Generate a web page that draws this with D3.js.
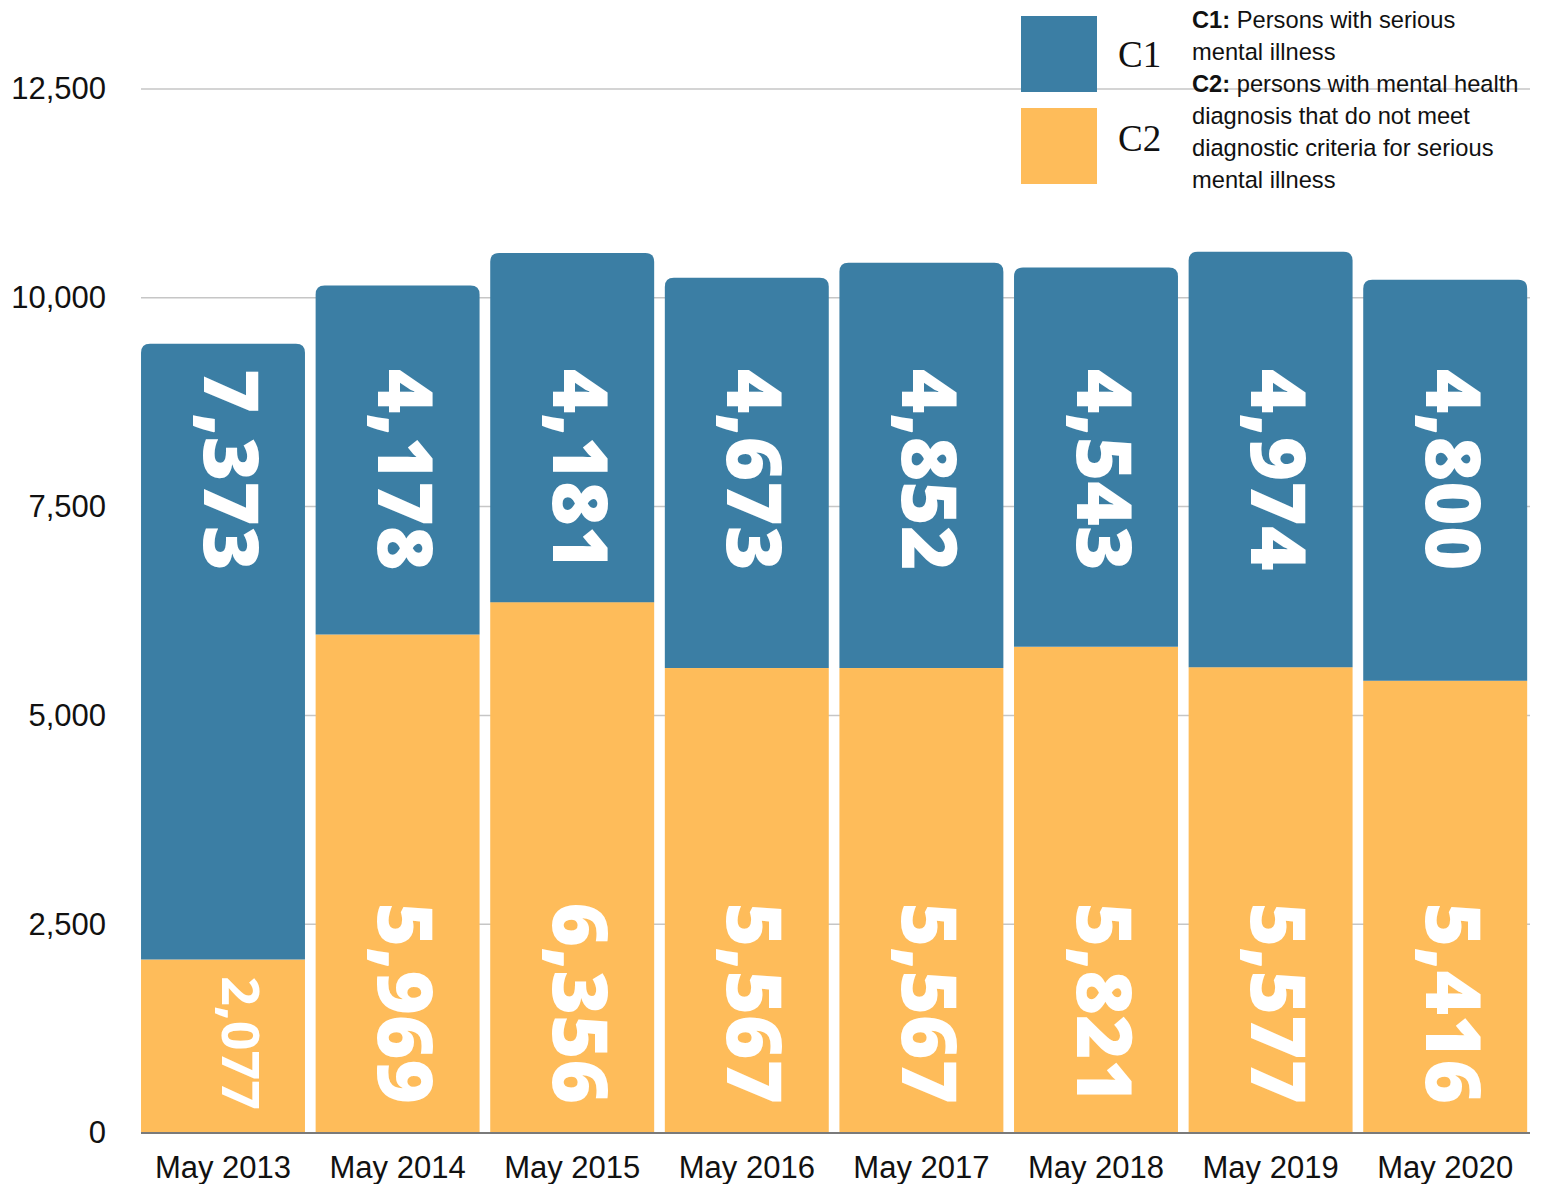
<!DOCTYPE html>
<html>
<head>
<meta charset="utf-8">
<script src="https://cdn.jsdelivr.net/npm/d3@7"></script>
<style>
  html, body { margin: 0; padding: 0; background: #fff; }
  svg { display: block; }
</style>
</head>
<body>
<svg id="chart" width="1546" height="1184"></svg>
<script>
// Caseload by category, each May
const years = ["May 2013", "May 2014", "May 2015", "May 2016", "May 2017", "May 2018", "May 2019", "May 2020"];
const c1Values = [7373, 4178, 4181, 4673, 4852, 4543, 4974, 4800];
const c2Values = [2077, 5969, 6356, 5567, 5567, 5821, 5577, 5416];
const yTicks = [0, 2500, 5000, 7500, 10000, 12500];
const legendItems = [
  { key: "C1", color: "#3B7EA4" },
  { key: "C2", color: "#FEBC5A" }
];
const legendLines = [
  { bold: "C1:", rest: " Persons with serious" },
  { bold: "", rest: "mental illness" },
  { bold: "C2:", rest: " persons with mental health" },
  { bold: "", rest: "diagnosis that do not meet" },
  { bold: "", rest: "diagnostic criteria for serious" },
  { bold: "", rest: "mental illness" }
];

const C1_COLOR = legendItems[0].color;
const C2_COLOR = legendItems[1].color;

const svg = d3.select("#chart");

const rows = years.map((y, i) => ({ year: y, c2: c2Values[i], c1: c1Values[i] }));
const stack = d3.stack().keys(["c2", "c1"])(rows);

const x = d3.scaleBand()
  .domain(years)
  .range([135.7, 1532.5])
  .paddingInner(0.061)
  .paddingOuter(0.0305);

const y = d3.scaleLinear().domain([0, 12500]).range([1133, 89]);

// Gridlines
svg.append("g")
  .selectAll("line")
  .data(yTicks.filter(d => d > 0))
  .join("line")
  .attr("x1", 141).attr("x2", 1530)
  .attr("y1", d => y(d)).attr("y2", d => y(d))
  .attr("stroke", "#c6c6c6").attr("stroke-width", 1.5);

// Y axis labels
const yAxis = d3.axisLeft(y).tickValues(yTicks).tickFormat(d3.format(",")).tickSize(0).tickPadding(0);
const yg = svg.append("g").attr("transform", "translate(106,0)").call(yAxis);
yg.select(".domain").remove();
yg.selectAll("text")
  .attr("font-family", "Liberation Sans, Arial, sans-serif")
  .attr("font-size", 31)
  .attr("fill", "#111");

// Rounded-top bar path
function roundedTop(x0, y0, w, h, r) {
  r = Math.min(r, h, w / 2);
  return `M${x0},${y0 + h}V${y0 + r}Q${x0},${y0} ${x0 + r},${y0}H${x0 + w - r}Q${x0 + w},${y0} ${x0 + w},${y0 + r}V${y0 + h}Z`;
}

// C2 segments (bottom)
svg.append("g")
  .selectAll("rect")
  .data(stack[0])
  .join("rect")
  .attr("x", d => x(d.data.year))
  .attr("width", x.bandwidth())
  .attr("y", d => y(d[1]))
  .attr("height", d => y(d[0]) - y(d[1]))
  .attr("fill", C2_COLOR);

// C1 segments (top, rounded)
svg.append("g")
  .selectAll("path")
  .data(stack[1])
  .join("path")
  .attr("d", d => roundedTop(x(d.data.year), y(d[1]), x.bandwidth(), y(d[0]) - y(d[1]), 9))
  .attr("fill", C1_COLOR);

// Baseline
svg.append("line")
  .attr("x1", 141).attr("x2", 1530)
  .attr("y1", y(0)).attr("y2", y(0))
  .attr("stroke", "#7a7a7a").attr("stroke-width", 2);

// X axis labels
const xAxis = d3.axisBottom(x).tickSize(0).tickPadding(0);
const xg = svg.append("g").attr("transform", `translate(0,${y(0) + 16})`).call(xAxis);
xg.select(".domain").remove();
xg.selectAll("text")
  .attr("font-family", "Liberation Sans, Arial, sans-serif")
  .attr("font-size", 31)
  .attr("fill", "#111")
  .attr("dy", "0.95em");

const fmt = d3.format(",");
const labelFont = "Open Sans, Lato, sans-serif";
const labelShift = 8;

// C1 value labels: rotated, reading downward from near the top
svg.append("g")
  .selectAll("text")
  .data(stack[1])
  .join("text")
  .attr("transform", d => `translate(${x(d.data.year) + x.bandwidth() / 2 + labelShift},${y(9150)}) rotate(90)`)
  .attr("dy", "0.36em")
  .attr("text-anchor", "start")
  .attr("font-family", labelFont)
  .attr("font-weight", 800)
  .attr("font-size", 76)
  .attr("fill", "#fff")
  .text(d => fmt(d.data.c1));

// C2 value labels: rotated, ending just above the baseline
svg.append("g")
  .selectAll("text")
  .data(stack[0])
  .join("text")
  .attr("transform", d => {
    const small = d.data.c2 < 3000;
    return `translate(${x(d.data.year) + x.bandwidth() / 2 + (small ? 18 : labelShift)},${y(0) - (small ? 23 : 29)}) rotate(90)`;
  })
  .attr("dy", "0.36em")
  .attr("text-anchor", "end")
  .attr("font-family", labelFont)
  .attr("font-weight", d => d.data.c2 < 3000 ? 700 : 800)
  .attr("font-size", d => d.data.c2 < 3000 ? 52 : 76)
  .attr("fill", "#fff")
  .text(d => fmt(d.data.c2));

// Legend
const legend = svg.append("g").attr("transform", "translate(1021,16)");
legend.selectAll("rect")
  .data(legendItems)
  .join("rect")
  .attr("x", 0).attr("y", (d, i) => i * 92)
  .attr("width", 76).attr("height", 76)
  .attr("fill", d => d.color);
legend.selectAll("text.key")
  .data(legendItems)
  .join("text")
  .attr("class", "key")
  .attr("x", 97).attr("y", (d, i) => 51 + i * 84)
  .attr("font-family", "Liberation Serif, Times New Roman, serif")
  .attr("font-size", 37)
  .attr("fill", "#111")
  .text(d => d.key);

const desc = svg.append("g").attr("transform", "translate(1192,28)");
const lines = desc.selectAll("text")
  .data(legendLines)
  .join("text")
  .attr("x", 0).attr("y", (d, i) => i * 32)
  .attr("font-family", "Liberation Sans, Arial, sans-serif")
  .attr("font-size", 23.7)
  .attr("fill", "#111");
lines.append("tspan").attr("font-weight", "bold").text(d => d.bold);
lines.append("tspan").text(d => d.rest);
</script>
</body>
</html>
